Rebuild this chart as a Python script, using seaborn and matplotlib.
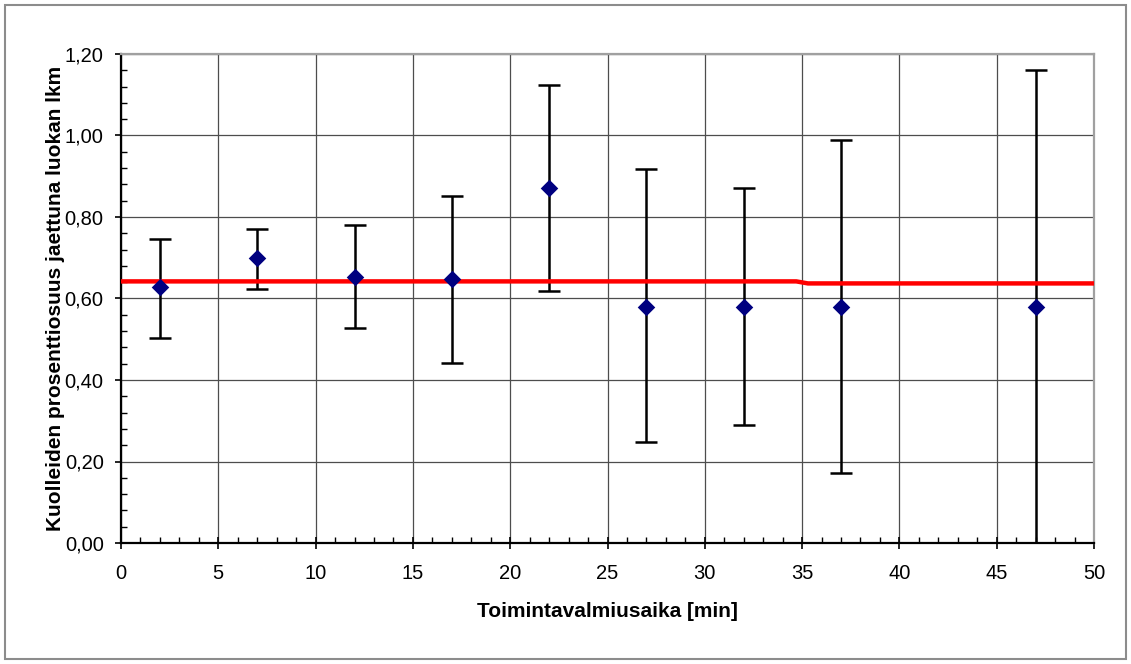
import matplotlib
matplotlib.use("Agg")
import matplotlib.pyplot as plt
import seaborn as sns
import pandas as pd
from matplotlib.ticker import MultipleLocator, FixedLocator
from matplotlib.patches import Rectangle

# Data
x_time = [2, 7, 12, 17, 22, 27, 32, 37, 47]
share = [0.628, 0.699, 0.652, 0.647, 0.870, 0.580, 0.580, 0.580, 0.580]
lower = [0.504, 0.623, 0.528, 0.442, 0.619, 0.247, 0.290, 0.171, 0.000]
upper = [0.747, 0.771, 0.780, 0.852, 1.123, 0.919, 0.871, 0.990, 1.161]

ref_x = [0, 34.7, 35.3, 50]
ref_y = [0.642, 0.642, 0.637, 0.637]

y_ticks = [0.0, 0.2, 0.4, 0.6, 0.8, 1.0, 1.2]
y_tick_labels = ["0,00", "0,20", "0,40", "0,60", "0,80", "1,00", "1,20"]
x_ticks = [0, 5, 10, 15, 20, 25, 30, 35, 40, 45, 50]
x_tick_labels = ["0", "5", "10", "15", "20", "25", "30", "35", "40", "45", "50"]

x_label = "Toimintavalmiusaika [min]"
y_label = "Kuolleiden prosenttiosuus jaettuna luokan lkm"

df = pd.DataFrame({"x": x_time, "y": share, "lo": lower, "hi": upper})
ref = pd.DataFrame({"x": ref_x, "y": ref_y})

sns.set_style("white")
plt.rcParams["font.family"] = ["Liberation Sans", "DejaVu Sans"]
plt.rcParams["text.color"] = "black"
plt.rcParams["axes.labelcolor"] = "black"
plt.rcParams["xtick.color"] = "black"
plt.rcParams["ytick.color"] = "black"

fig = plt.figure(figsize=(11.31, 6.64), dpi=100)
ax = fig.add_axes([121 / 1131, 1 - 543 / 664, (1094 - 121) / 1131, (543 - 54) / 664])

# grid
ax.set_axisbelow(True)
ax.grid(True, which="major", color="#4d4d4d", linewidth=0.9)

# error bars
ax.errorbar(df["x"], df["y"], yerr=[df["y"] - df["lo"], df["hi"] - df["y"]],
            fmt="none", ecolor="black", elinewidth=1.8, capsize=8, capthick=1.8, zorder=3)

# reference line
sns.lineplot(data=ref, x="x", y="y", ax=ax, color="#ff0000", linewidth=3.2, zorder=4,
             estimator=None, sort=False)

# points
sns.scatterplot(data=df, x="x", y="y", ax=ax, marker="D", s=80, color="#000080",
                edgecolor="#000080", linewidth=0, zorder=5)

ax.set_xlim(0, 50)
ax.set_ylim(0, 1.2)
ax.xaxis.set_major_locator(FixedLocator(x_ticks))
ax.yaxis.set_major_locator(FixedLocator(y_ticks))
ax.set_xticklabels(x_tick_labels)
ax.set_yticklabels(y_tick_labels)
ax.xaxis.set_minor_locator(MultipleLocator(1))
ax.yaxis.set_minor_locator(MultipleLocator(0.04))

ax.tick_params(axis="x", which="major", direction="inout", length=8, width=1.2,
               labelsize=14.5, pad=11, color="black", labelcolor="black")
ax.tick_params(axis="x", which="minor", direction="in", length=4, width=1.0, color="black")
ax.tick_params(axis="y", which="major", direction="out", length=4.5, width=1.2,
               labelsize=14.5, pad=8, color="black", labelcolor="black")
ax.tick_params(axis="y", which="minor", direction="in", length=4, width=1.0, color="black")
ax.tick_params(which="both", bottom=True, left=True, top=False, right=False)

for side in ["left", "bottom"]:
    ax.spines[side].set_color("black")
    ax.spines[side].set_linewidth(1.6)
for side in ["top", "right"]:
    ax.spines[side].set_color("#a0a0a0")
    ax.spines[side].set_linewidth(1.6)
    ax.spines[side].set_visible(True)

ax.set_xlabel(x_label, fontsize=15, fontweight="bold", labelpad=14, color="black")
ax.set_ylabel(y_label, fontsize=15, fontweight="bold", labelpad=0, color="black")

# outer chart border
fig.patches.append(Rectangle((5 / 1131, 5 / 664), 1121 / 1131, 654 / 664,
                             transform=fig.transFigure, fill=False,
                             edgecolor="#8c8c8c", linewidth=1.5))

fig.savefig("out.png", dpi=100)
